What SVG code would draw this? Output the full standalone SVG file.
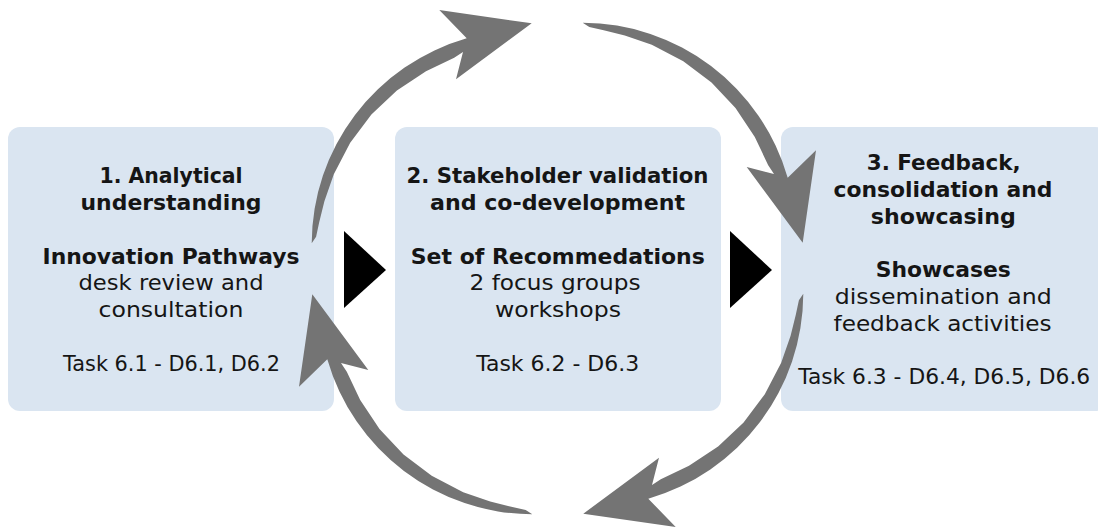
<svg xmlns="http://www.w3.org/2000/svg" width="1098" height="529" viewBox="0 0 1098 529">
  <defs>
    <style>
      .box { fill: #dae5f1; }
      .tri { fill: #000000; }
      .arc { fill: #747474; }
      text { font-family: "DejaVu Sans", "Liberation Sans", sans-serif; fill: #151515; text-anchor: middle; }
      .t { font-size: 21px; font-weight: bold; }
      .b { font-size: 21.5px; }
    </style>
    <path id="arcArrow" d="M311.7,243.3 A214,214 0 0 1 466.7,38.3 L439.3,10 L531.7,23.3 L456,79.3 L463,52 L454.2,57.8 L426,71.2 L396.9,90.5 L371.4,114.5 L350.2,142.7 L333.8,174.2 L324.4,201.2 L319.2,222.3 L316.1,236.7 Z"/>
  </defs>
  <rect width="1098" height="529" fill="#ffffff"/>

  <g id="node1">
    <rect class="box" x="8" y="127" width="326" height="284" rx="12"/>
    <text class="t" x="171" y="183.3" textLength="143" lengthAdjust="spacingAndGlyphs">1. Analytical</text>
    <text class="t" x="171" y="210" textLength="181" lengthAdjust="spacingAndGlyphs">understanding</text>
    <text class="t" x="171" y="263.5" textLength="257" lengthAdjust="spacingAndGlyphs">Innovation Pathways</text>
    <text class="b" x="171" y="290.3" textLength="185" lengthAdjust="spacingAndGlyphs">desk review and</text>
    <text class="b" x="171" y="317" textLength="145" lengthAdjust="spacingAndGlyphs">consultation</text>
    <text class="b" x="171.5" y="370.5" textLength="217" lengthAdjust="spacingAndGlyphs">Task 6.1 - D6.1, D6.2</text>
  </g>

  <g id="node2">
    <rect class="box" x="395" y="127" width="326" height="284" rx="12"/>
    <text class="t" x="557.5" y="183.3" textLength="302" lengthAdjust="spacingAndGlyphs">2. Stakeholder validation</text>
    <text class="t" x="557.5" y="210" textLength="255" lengthAdjust="spacingAndGlyphs">and co-development</text>
    <text class="t" x="557.8" y="263.5" textLength="294" lengthAdjust="spacingAndGlyphs">Set of Recommedations</text>
    <text class="b" x="555" y="290.3" textLength="171" lengthAdjust="spacingAndGlyphs">2 focus groups</text>
    <text class="b" x="558" y="317" textLength="126" lengthAdjust="spacingAndGlyphs">workshops</text>
    <text class="b" x="557.7" y="370.5" textLength="163" lengthAdjust="spacingAndGlyphs">Task 6.2 - D6.3</text>
  </g>

  <g id="node3">
    <rect class="box" x="781" y="127" width="326" height="284" rx="12"/>
    <text class="t" x="943.7" y="170" textLength="154" lengthAdjust="spacingAndGlyphs">3. Feedback,</text>
    <text class="t" x="943" y="196.8" textLength="219" lengthAdjust="spacingAndGlyphs">consolidation and</text>
    <text class="t" x="943.3" y="223.5" textLength="145" lengthAdjust="spacingAndGlyphs">showcasing</text>
    <text class="t" x="943.3" y="277" textLength="135" lengthAdjust="spacingAndGlyphs">Showcases</text>
    <text class="b" x="943.3" y="303.8" textLength="217" lengthAdjust="spacingAndGlyphs">dissemination and</text>
    <text class="b" x="942.5" y="330.5" textLength="218" lengthAdjust="spacingAndGlyphs">feedback activities</text>
    <text class="b" x="944.2" y="384" textLength="292" lengthAdjust="spacingAndGlyphs">Task 6.3 - D6.4, D6.5, D6.6</text>
  </g>

  <g id="connectors">
    <polygon class="tri" points="344,231 386,270 344,308"/>
    <polygon class="tri" points="730,231 772,270 730,308"/>
    <use href="#arcArrow" class="arc"/>
    <use href="#arcArrow" class="arc" transform="rotate(90 557.5 268.5)"/>
    <use href="#arcArrow" class="arc" transform="rotate(180 557.5 268.5)"/>
    <use href="#arcArrow" class="arc" transform="rotate(270 557.5 268.5)"/>
  </g>
</svg>
